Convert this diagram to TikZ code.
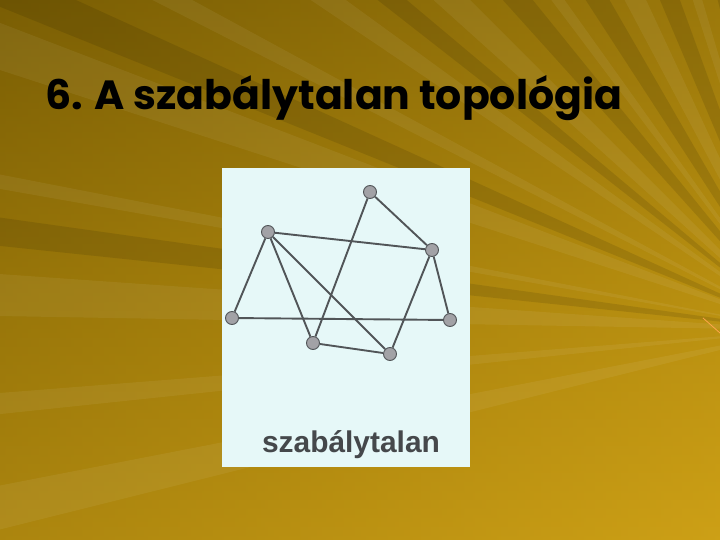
\documentclass[tikz,border=0pt]{standalone}
\usepackage{fontspec}
\setmainfont{Liberation Sans}
\newfontfamily\titlefont{Poppins}
\definecolor{bgdark}{HTML}{7A5E04}
\definecolor{bgmid}{HTML}{A8820C}
\definecolor{bglight}{HTML}{CDA016}
\definecolor{panel}{HTML}{E6F8F8}
\definecolor{edgec}{HTML}{515558}
\definecolor{nodec}{HTML}{A2A2A6}
\tikzset{
  netnode/.style={circle,fill=nodec,draw=edgec,line width=0.9pt,minimum size=13pt,inner sep=0pt},
  netedge/.style={draw=edgec,line width=1.9pt},
  ray/.style={fill=white,opacity=0.06},
  dray/.style={fill=black,opacity=0.10}
}
\begin{document}
\begin{tikzpicture}[x=1pt,y=-1pt]
\useasboundingbox (0,0) rectangle (720,540);
\shade[top color=bgdark, bottom color=bglight, middle color=bgmid] (0,0) rectangle (720,540);
\shade[left color=bgdark, right color=bglight, opacity=0.4] (0,0) rectangle (720,540);
\begin{scope}
\clip (0,0) rectangle (720,540);
\coordinate (o) at (800,330);
\foreach \a/\b in {166/169,174/175.5,181/184,190/191,198/201,207/208.5,214/216,222/225,233/234.5,242/245,252/253.5}
  \fill[ray] (o) -- ([shift={(\a:1500)}]o) -- ([shift={(\b:1500)}]o) -- cycle;
\foreach \a/\b in {186/188,202/204.5,218/220,228/231,237/240,247/250,256/259}
  \fill[dray] (o) -- ([shift={(\a:1500)}]o) -- ([shift={(\b:1500)}]o) -- cycle;
\end{scope}
\draw[orange!70!white,line width=0.8pt] (703,318) -- (720,333);
% title
\node[anchor=base west,inner sep=0pt] (title) at (45,110)
  {\resizebox{577pt}{34pt}{\titlefont\bfseries\fontsize{34}{40}\selectfont 6. A szabálytalan topológia}};
% panel
\fill[panel] (222,168) rectangle (470,467);
\node[netnode] (A) at (370,192) {};
\node[netnode] (B) at (268,232) {};
\node[netnode] (C) at (432,250) {};
\node[netnode] (D) at (232,318) {};
\node[netnode] (E) at (450,320) {};
\node[netnode] (F) at (313,343) {};
\node[netnode] (G) at (390,354) {};
\path[netedge] (A) -- (C);
\path[netedge] (A) -- (F);
\path[netedge] (B) -- (C);
\path[netedge] (B) -- (D);
\path[netedge] (B) -- (F);
\path[netedge] (B) -- (G);
\path[netedge] (D) -- (E);
\path[netedge] (C) -- (E);
\path[netedge] (C) -- (G);
\path[netedge] (F) -- (G);
\node[anchor=base,inner sep=0pt,text=edgec!85!black] (lbl) at (351,452)
  {\resizebox{178pt}{!}{\bfseries\fontsize{29}{32}\selectfont szabálytalan}};
\end{tikzpicture}
\end{document}
